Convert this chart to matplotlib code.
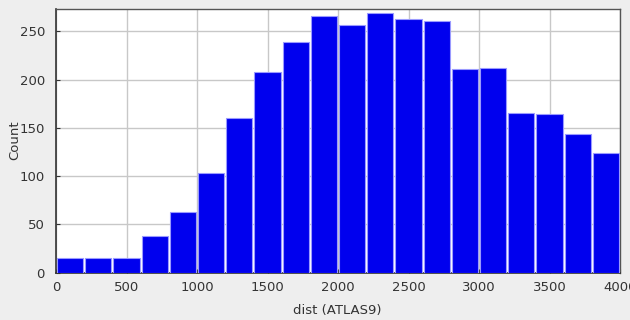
import matplotlib
matplotlib.use("Agg")
import matplotlib.pyplot as plt

# histogram of dist (ATLAS9), bins of width 200
bin_starts = [0, 200, 400, 600, 800, 1000, 1200, 1400, 1600, 1800,
              2000, 2200, 2400, 2600, 2800, 3000, 3200, 3400, 3600, 3800]
counts = [15, 15, 15, 38, 63, 103, 160, 208, 239, 266,
          257, 269, 263, 261, 211, 212, 166, 164, 144, 124]
x_ticks = [0, 500, 1000, 1500, 2000, 2500, 3000, 3500, 4000]
y_ticks = [0, 50, 100, 150, 200, 250]

bin_width = 200
W, H = 630, 320
ax_left, ax_right, ax_top, ax_bottom = 56, 620, 9.3, 272.7

fig = plt.figure(figsize=(W / 100, H / 100), dpi=100, facecolor="#eeeeee")
ax = fig.add_axes([ax_left / W, 1 - ax_bottom / H,
                   (ax_right - ax_left) / W, (ax_bottom - ax_top) / H])
ax.set_facecolor("#ffffff")

ax.bar([b + bin_width / 2 for b in bin_starts], counts, width=bin_width * 0.93,
       color="#0000ee", edgecolor="#9a9aff", linewidth=0.8, zorder=3)

ax.set_xlim(0, 4000)
ax.set_ylim(0, 273)
ax.set_xticks(x_ticks)
ax.set_yticks(y_ticks)
ax.grid(True, color="#c8c8c8", linewidth=1.0, zorder=0)
ax.set_axisbelow(True)

for side in ("top", "right"):
    ax.spines[side].set_color("#555555")
    ax.spines[side].set_linewidth(1.0)
for side in ("left", "bottom"):
    ax.spines[side].set_color("#333333")
    ax.spines[side].set_linewidth(1.2)

ax.tick_params(axis="both", labelsize=9.5, colors="#333333", length=3, width=0.8,
               direction="in", labelcolor="#333333")
ax.tick_params(axis="x", pad=6)
ax.tick_params(axis="y", pad=8)

ax.set_xlabel("dist (ATLAS9)", fontsize=9.5, color="#333333")
ax.set_ylabel("Count", fontsize=9.5, color="#333333")
ax_w, ax_h = ax_right - ax_left, ax_bottom - ax_top
ax.yaxis.set_label_coords((21 - ax_left) / ax_w, (ax_bottom - 140) / ax_h)
ax.xaxis.set_label_coords((337 - ax_left) / ax_w, (ax_bottom - 304) / ax_h)

fig.savefig("out.png", dpi=100, facecolor=fig.get_facecolor())
